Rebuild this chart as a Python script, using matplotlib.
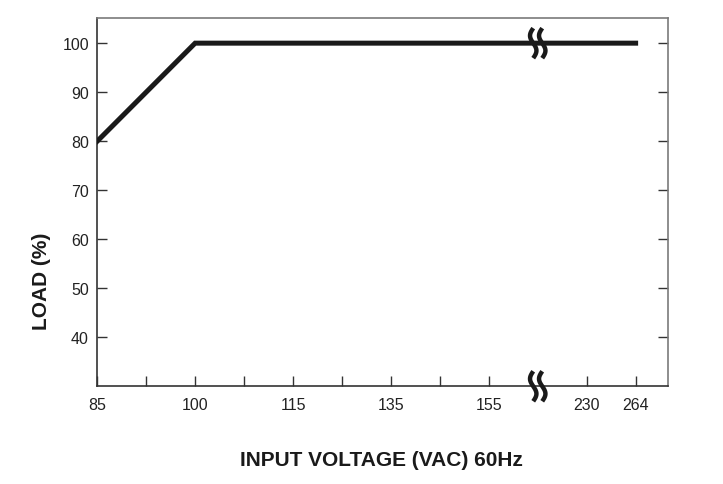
import numpy as np
import matplotlib
matplotlib.use("Agg")
import matplotlib.pyplot as plt

plt.rcParams['font.family'] = ['Liberation Sans', 'DejaVu Sans']

# derating curve: input voltage (VAC) vs load (%)
voltage = [85, 100, 264]
load = [80, 100, 100]

# broken x axis: labelled voltages and where they sit on the axis
tick_volts = [85, 100, 115, 135, 155, 230, 264]
tick_pos = [0, 2, 4, 6, 8, 10, 11]
minor_pos = [1, 3, 5, 7]
y_ticks = [40, 50, 60, 70, 80, 90, 100]
break_pos = 9

fig = plt.figure(figsize=(7.23, 4.85), dpi=100)
ax = fig.add_axes([0.1345, 0.2015, 0.79, 0.759])

x = np.interp(voltage, tick_volts, tick_pos)
ax.plot(x, load, color='#1a1a1a', lw=3.6, solid_capstyle='projecting',
        solid_joinstyle='miter', zorder=3)

ax.set_xlim(0, 11.67)
ax.set_ylim(30, 105.1)

all_pos = sorted(tick_pos + minor_pos)
labels = dict(zip(tick_pos, tick_volts))
ax.set_xticks(all_pos)
ax.set_xticklabels([str(labels[p]) if p in labels else '' for p in all_pos])
ax.set_yticks(y_ticks)
ax.tick_params(axis='both', direction='in', length=7, width=1, color='#333333',
               labelsize=11.5, labelcolor='#222222')
ax.tick_params(axis='x', pad=8)
ax.tick_params(axis='y', pad=6, right=True)

for side in ['left', 'bottom']:
    ax.spines[side].set_color('#333333')
    ax.spines[side].set_linewidth(1.2)
for side in ['top', 'right']:
    ax.spines[side].set_color('#7a7a7a')
    ax.spines[side].set_linewidth(1.2)

# break marks (drawn in pixel offsets around a data point)
fig.canvas.draw()
px_x = 11.67 / (ax.get_window_extent().width)
px_y = (105.1 - 30) / (ax.get_window_extent().height)
s = np.linspace(0, 1, 40)
for cy in [100, 30]:
    for dx in [-4.5, 4.5]:
        xs = break_pos + (dx - 3.2 * np.sin(2 * np.pi * s)) * px_x
        ys = cy + (15 - 30 * s) * px_y
        ax.plot(xs, ys, color='#1a1a1a', lw=3.2, solid_capstyle='butt',
                zorder=4, clip_on=False)

fig.text(0.528, 0.05, 'INPUT VOLTAGE (VAC) 60Hz', ha='center', va='center',
         fontsize=15, fontweight='bold', color='#1a1a1a')
fig.text(0.058, 0.42, 'LOAD (%)', ha='center', va='center', rotation=90,
         fontsize=15, fontweight='bold', color='#1a1a1a')

fig.savefig('out.png', dpi=100)
